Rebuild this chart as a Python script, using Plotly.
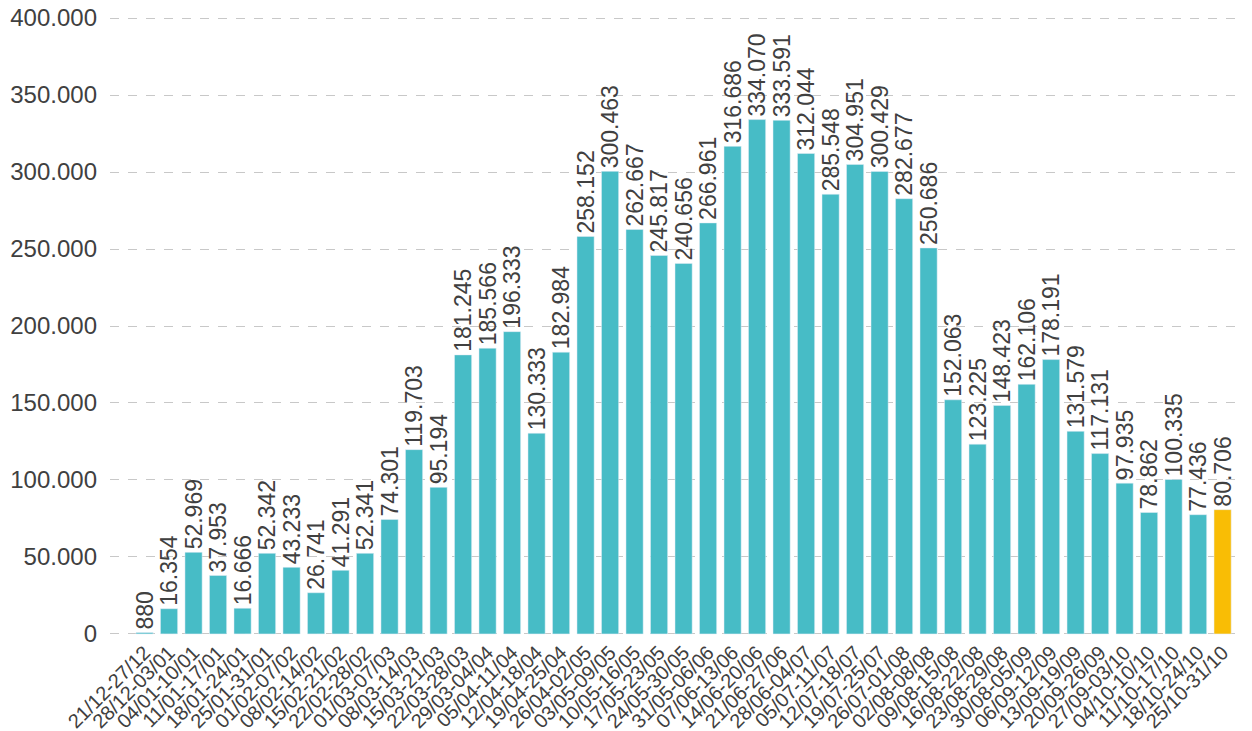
import plotly.graph_objects as go

categories = ["21/12-27/12", "28/12-03/01", "04/01-10/01", "11/01-17/01", "18/01-24/01",
              "25/01-31/01", "01/02-07/02", "08/02-14/02", "15/02-21/02", "22/02-28/02",
              "01/03-07/03", "08/03-14/03", "15/03-21/03", "22/03-28/03", "29/03-04/04",
              "05/04-11/04", "12/04-18/04", "19/04-25/04", "26/04-02/05", "03/05-09/05",
              "10/05-16/05", "17/05-23/05", "24/05-30/05", "31/05-06/06", "07/06-13/06",
              "14/06-20/06", "21/06-27/06", "28/06-04/07", "05/07-11/07", "12/07-18/07",
              "19/07-25/07", "26/07-01/08", "02/08-08/08", "09/08-15/08", "16/08-22/08",
              "23/08-29/08", "30/08-05/09", "06/09-12/09", "13/09-19/09", "20/09-26/09",
              "27/09-03/10", "04/10-10/10", "11/10-17/10", "18/10-24/10", "25/10-31/10"]

values = [880, 16354, 52969, 37953, 16666, 52342, 43233, 26741, 41291, 52341,
          74301, 119703, 95194, 181245, 185566, 196333, 130333, 182984, 258152, 300463,
          262667, 245817, 240656, 266961, 316686, 334070, 333591, 312044, 285548, 304951,
          300429, 282677, 250686, 152063, 123225, 148423, 162106, 178191, 131579, 117131,
          97935, 78862, 100335, 77436, 80706]

y_ticks = [0, 50000, 100000, 150000, 200000, 250000, 300000, 350000, 400000]
y_tick_labels = ["0", "50.000", "100.000", "150.000", "200.000", "250.000", "300.000", "350.000", "400.000"]

def fmt(v):
    return f"{v:,}".replace(",", ".")

colors = ["#47BCC6"] * (len(values) - 1) + ["#F9BD05"]
x_idx = list(range(len(categories)))

FONT = "Liberation Sans, Arial, sans-serif"

fig = go.Figure(go.Bar(
    x=x_idx, y=values, marker_color=colors, width=0.7,
    text=[fmt(v) for v in values], textposition="outside", textangle=-90,
    constraintext="none",
    textfont=dict(family=FONT, size=23, color="#404040"),
    cliponaxis=False,
))

fig.update_layout(
    width=1244, height=723,
    margin=dict(l=102, r=0, t=9, b=96),
    paper_bgcolor="white", plot_bgcolor="white",
    font=dict(family=FONT, color="#404040"),
    showlegend=False,
)
fig.update_xaxes(
    tickmode="array", tickvals=x_idx, ticktext=categories,
    tickangle=-45, tickfont=dict(size=20, color="#404040"),
    range=[-1.41, 45.2], showgrid=False, showline=False, ticks="",
    automargin=False, ticklabelstandoff=1,
)
fig.update_yaxes(
    tickmode="array", tickvals=y_ticks, ticktext=y_tick_labels,
    range=[-700, 400700], tickfont=dict(size=24, color="#404040"),
    showgrid=True, gridcolor="#C8C8C8", griddash="dash", gridwidth=1,
    zeroline=False, showline=False, ticks="", ticklabelstandoff=12,
    automargin=False, ticklabeloverflow="allow",
)

fig.write_html("out.html")
